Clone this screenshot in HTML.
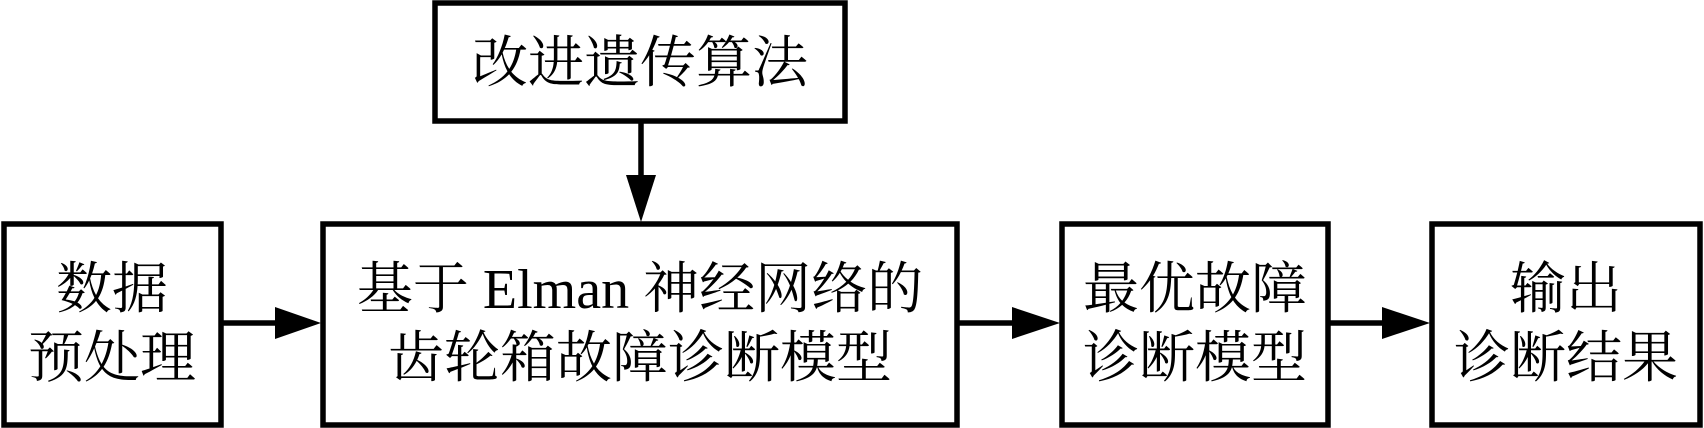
<!DOCTYPE html>
<html><head><meta charset="utf-8"><style>
html,body{margin:0;padding:0;background:#fff;}
svg{display:block;}
text{font-family:"Liberation Serif","Noto Serif CJK SC",serif;font-size:56px;fill:#000;text-anchor:middle;dominant-baseline:central;}
</style></head><body>
<svg width="1704" height="428" viewBox="0 0 1704 428" xmlns="http://www.w3.org/2000/svg">
<g fill="none" stroke="#000" stroke-width="5.5">
<rect x="435" y="3" width="410" height="118"/>
<rect x="4" y="224" width="217" height="201"/>
<rect x="323" y="224" width="634" height="201"/>
<rect x="1062" y="224" width="266" height="201"/>
<rect x="1432" y="224" width="268" height="201"/>
<line x1="641" y1="121" x2="641" y2="180"/>
<line x1="221" y1="323" x2="280" y2="323"/>
<line x1="957" y1="323" x2="1016" y2="323"/>
<line x1="1328" y1="323" x2="1386" y2="323"/>
</g>
<g fill="#000">
<polygon points="626,175 656,175 641,222"/>
<polygon points="275,307 275,339 321,323"/>
<polygon points="1012,307 1012,339 1060,323"/>
<polygon points="1382,307 1382,339 1430,323"/>
</g>
<text x="640" y="64">改进遗传算法</text>
<text x="112" y="290">数据</text>
<text x="112" y="359">预处理</text>
<text x="640" y="290">基于 Elman 神经网络的</text>
<text x="640" y="359">齿轮箱故障诊断模型</text>
<text x="1195" y="290">最优故障</text>
<text x="1195" y="359">诊断模型</text>
<text x="1566" y="290">输出</text>
<text x="1566" y="359">诊断结果</text>
</svg>
</body></html>
